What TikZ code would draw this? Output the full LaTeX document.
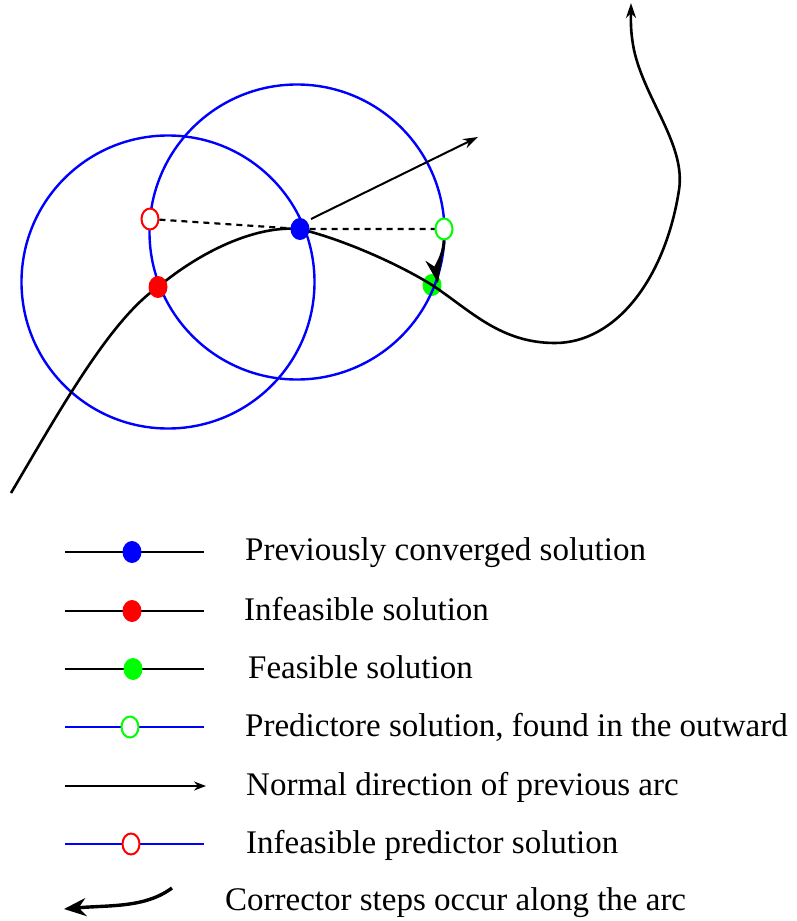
\documentclass[tikz,border=0pt]{standalone}
\usepackage{fontspec}
\setmainfont{Liberation Serif}
\usetikzlibrary{arrows.meta,shapes.geometric}
\begin{document}
\begin{tikzpicture}[x=1pt,y=-1pt,
  fdot/.style={shape=ellipse,minimum width=19pt,minimum height=22pt,inner sep=0pt,draw=none},
  odot/.style={shape=ellipse,minimum width=17pt,minimum height=21pt,inner sep=0pt,line width=2pt,fill=white},
  bcirc/.style={draw=blue,line width=2.4pt},
  arc/.style={line width=2.6pt,line join=round},
  lbl/.style={anchor=base west,inner sep=0pt,font=\fontsize{33}{36}\selectfont},
  blk/.style={line width=2.6pt},
  blu/.style={draw=blue,line width=2.4pt}
]
\useasboundingbox (0,0) rectangle (797,921);
% green dot below circle line
\node[fdot,fill=green] (pg) at (432,285) {};
% circles
\draw[bcirc] (168,282) circle[radius=146.5pt];
\draw[bcirc] (297,232) circle[radius=147.5pt];
% main curve
\draw[arc,-{Stealth[length=15pt,width=10pt]}] (11,493) .. controls (60,410) and (110,320) .. (158,287)
  .. controls (200,252) and (255,225) .. (300,229)
  .. controls (345,240) and (400,265) .. (432,285)
  .. controls (470,310) and (500,343) .. (555,343)
  .. controls (615,343) and (665,280) .. (679,190)
  .. controls (686,145) and (645,100) .. (634,50)
  .. controls (630,30) and (631,18) .. (631,3);
% predictor points
\node[odot,draw=red] (pr) at (150,219) {};
\node[odot,draw=green] (pgo) at (444,229) {};
\node[fdot,fill=red] (pred) at (158,287) {};
\node[fdot,fill=blue] (pb) at (300,229) {};
% dashed
\draw[line width=2.2pt,dash pattern=on 6pt off 5pt] (pr) -- (pb) -- (pgo);
% normal arrow
\coordinate (nt) at (478,137);
\draw[line width=2pt,-{Stealth[length=15pt,width=10pt]}] (311,219) -- (nt);
% corrector arrow
\coordinate (ct) at (438,283);
\draw[line width=3pt,-{Stealth[length=24pt,width=17pt]}] (pgo.south) to[out=-92,in=100] (ct);

% legend
\coordinate (l1a) at (65,552); \coordinate (l1b) at (204,552);
\draw[blk] (l1a) -- (l1b);
\node[fdot,fill=blue] (d1) at (132,552) {};
\node[lbl] (t1) at (245,560) {Previously converged solution};

\coordinate (l2a) at (65,611); \coordinate (l2b) at (204,611);
\draw[blk] (l2a) -- (l2b);
\node[fdot,fill=red] (d2) at (132,611) {};
\node[lbl] (t2) at (244,620) {Infeasible solution};

\coordinate (l3a) at (65,669); \coordinate (l3b) at (204,669);
\draw[blk] (l3a) -- (l3b);
\node[fdot,fill=green] (d3) at (133,669) {};
\node[lbl] (t3) at (248,678) {Feasible solution};

\coordinate (l4a) at (65,727); \coordinate (l4b) at (204,727);
\draw[blu] (l4a) -- (l4b);
\node[odot,draw=green] (d4) at (130,727) {};
\node[lbl] (t4) at (245,736) {Predictore solution, found in the outward};

\coordinate (l5a) at (65,786); \coordinate (l5b) at (206,786);
\draw[line width=2pt,-{Stealth[length=12pt,width=9pt]}] (l5a) -- (l5b);
\node[lbl] (t5) at (246,795) {Normal direction of previous arc};

\coordinate (l6a) at (65,844); \coordinate (l6b) at (204,844);
\draw[blu] (l6a) -- (l6b);
\node[odot,draw=red] (d6) at (131,844) {};
\node[lbl] (t6) at (246,853) {Infeasible predictor solution};

\coordinate (l7a) at (172,888); \coordinate (l7b) at (64,909);
\draw[line width=3.4pt,-{Stealth[length=22pt,width=18pt]}] (l7a) .. controls (145,908) and (110,905) .. (l7b);
\node[lbl] (t7) at (225,910) {Corrector steps occur along the arc};
\end{tikzpicture}
\end{document}
